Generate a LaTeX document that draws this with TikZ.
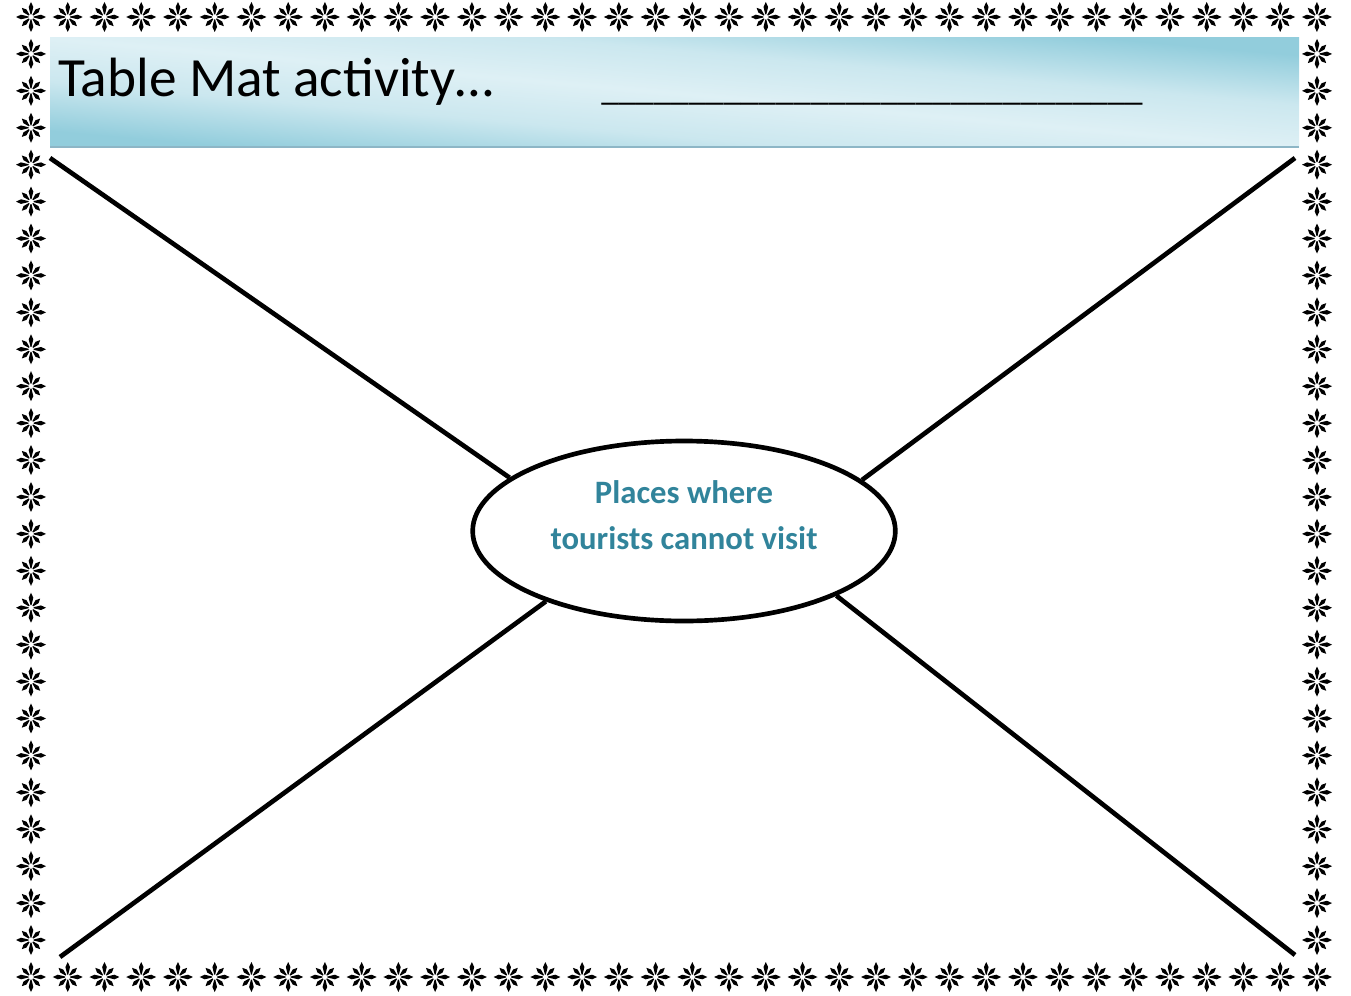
\documentclass[tikz,border=0pt]{standalone}
\usepackage{fontspec}
\setmainfont{Carlito}
\usetikzlibrary{shapes.geometric}
\definecolor{labelteal}{HTML}{31849B}
\definecolor{hdark}{HTML}{92CDDC}
\definecolor{hlight}{HTML}{DEF0F5}
\definecolor{hedge}{HTML}{8DB6C6}
\pgfdeclarehorizontalshading{hdrshade}{100bp}{color(0bp)=(hdark); color(20bp)=(hdark); color(36bp)=(hlight!75!hdark); color(50bp)=(hlight); color(64bp)=(hlight!75!hdark); color(80bp)=(hdark); color(100bp)=(hdark)}
\tikzset{
  bstar/.pic={
    \foreach \a in {0,90,180,270} {\fill[rotate=\a] (2.5,0.5) -- (10,2.3) -- (15,0) -- (10,-2.3) -- (2.5,-0.5) -- cycle;}
    \foreach \a in {45,135,225,315} {\fill[rotate=\a] (2.5,0.5) -- (8.5,2.1) -- (13,0) -- (8.5,-2.1) -- (2.5,-0.5) -- cycle;}
  },
  spoke/.style={line width=3.5pt, black},
  centreoval/.style={draw, line width=3.5pt, ellipse, fill=white, minimum width=317pt, minimum height=135pt, inner sep=0pt},
  centrelabel/.style={align=center, text=labelteal, font=\bfseries\fontsize{24.5}{34.5}\selectfont},
}
\begin{document}
\begin{tikzpicture}[x=0.75pt,y=-0.75pt]
\useasboundingbox[fill=white] (0,0) rectangle (1351,995);
% header band
\begin{scope}[transform canvas={shift={(37.5pt,-111pt)},xscale=9.3675,yscale=0.825}]
  \shade[shading=hdrshade, shading angle=45] (0pt,0pt) rectangle (100pt,100pt);
\end{scope}
\draw[hedge, line width=2pt] (50,147) -- (1299,147);
\node[anchor=base west, inner sep=0pt, font=\fontsize{41.5}{48}\selectfont] (title) at (58,97) {Table Mat activity…};
\node[anchor=base west, inner sep=0pt, font=\fontsize{26.3}{30}\selectfont] (blank) at (601,101) {\_\_\_\_\_\_\_\_\_\_\_\_\_\_\_\_\_\_\_\_\_\_\_\_\_\_\_\_\_\_\_};
% border
\foreach \i in {0,...,35} {
  \pic at ({31+\i*36.74},17) {bstar};
  \pic at ({31+\i*36.74},977) {bstar};
}
\foreach \j in {1,...,25} {
  \pic at (31,{17+\j*36.92}) {bstar};
  \pic at (1317,{17+\j*36.92}) {bstar};
}
% centre
\node[centreoval] (ell) at (684,531) {};
\node[centrelabel] (lbl) at (684,515) {Places where\\tourists cannot visit};
\coordinate (tl) at (50,158);
\coordinate (tr) at (1295,158);
\coordinate (bl) at (60,957);
\coordinate (br) at (1295,955);
\draw[spoke] (tl) -- (ell.163.3);
\draw[spoke] (tr) -- (ell.16.6);
\draw[spoke] (bl) -- (ell.207.6);
\draw[spoke] (br) -- (ell.337.5);
\end{tikzpicture}
\end{document}
